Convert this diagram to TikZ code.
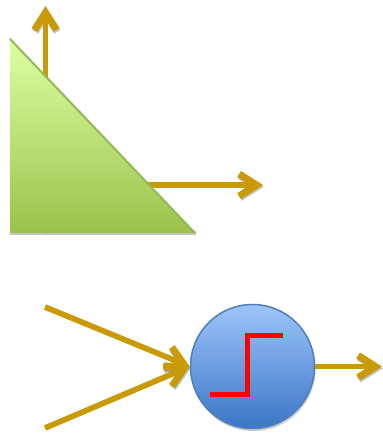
\documentclass[tikz,border=0pt]{standalone}
\usetikzlibrary{arrows.meta}
\definecolor{gold}{HTML}{C99A06}
\definecolor{trtop}{HTML}{DDFFA3}
\definecolor{trbot}{HTML}{9CC24C}
\definecolor{trline}{HTML}{93B856}
\definecolor{cirtop}{HTML}{9EC4FA}
\definecolor{cirbot}{HTML}{3B76C6}
\definecolor{cirline}{HTML}{4C7FBC}
\begin{document}
\begin{tikzpicture}[x=0.03cm,y=0.03cm,
  goldarrow/.style={draw=gold, line width=0.17cm,
    -{Straight Barb[length=0.52cm,width=0.66cm,line width=0.21cm]},
    preaction={draw=black!45, opacity=0.55,
      transform canvas={shift={(0.6pt,-1.6pt)}}}},
  stepline/.style={draw=red, line width=0.15cm,
    preaction={draw=black!45, opacity=0.5,
      transform canvas={shift={(0.6pt,-1.6pt)}}}},
  neuronstyle/.style={circle, minimum size=3.72cm, inner sep=0pt,
    top color=cirtop, bottom color=cirbot, draw=cirline, line width=0.045cm}
]
\useasboundingbox (0,0) rectangle (383,435);
% coordinates
\coordinate (upbase) at (45.5,202);
\coordinate (uptip) at (45.5,429);
\coordinate (rbase) at (10,250);
\coordinate (rtip) at (263,250);
\coordinate (tA) at (10,396);
\coordinate (tB) at (10,202);
\coordinate (tC) at (195,202);
% arrows behind triangle
\draw[goldarrow] (upbase) -- (uptip);
\draw[goldarrow] (rbase) -- (rtip);
% triangle shadow
\fill[black!45, opacity=0.5] ([shift={(0,-1.7)}]tB) -- ([shift={(1,-1.7)}]tC) -- ([shift={(1,2)}]tC) -- ([shift={(0,2)}]tB) -- cycle;
% triangle
\shade[top color=trtop, bottom color=trbot] (tA) -- (tB) -- (tC) -- cycle;
\draw[trline, line width=0.06cm, line cap=round] (tA) -- (tC);
% lower part
\coordinate (in1) at (45,128);
\coordinate (in2) at (45,7);
\coordinate (out) at (382,68.5);
\fill[black!45, opacity=0.45] (253.5,66) circle (62);
\node[neuronstyle] (neuron) at (252.5,68.5) {};
\draw[goldarrow] (in1) -- (neuron.west);
\draw[goldarrow] (in2) -- (neuron.west);
\draw[goldarrow] (neuron.east) -- (out);
\coordinate (s1) at (210,40.5);
\coordinate (s2) at (247.5,40.5);
\coordinate (s3) at (247.5,99.5);
\coordinate (s4) at (283,99.5);
\draw[stepline] (s1) -- (s2) -- (s3) -- (s4);
\end{tikzpicture}
\end{document}
